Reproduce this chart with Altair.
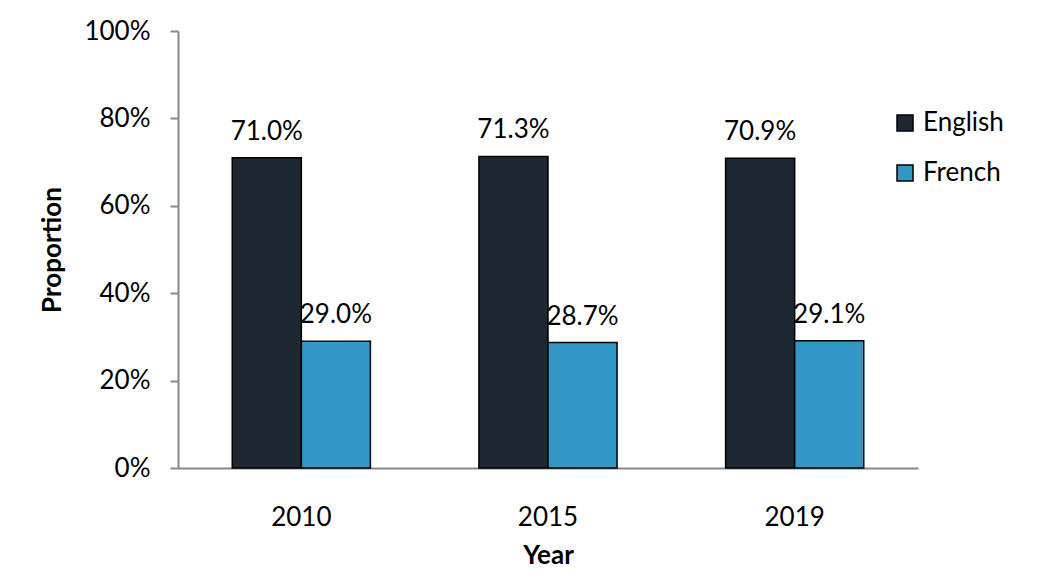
import altair as alt
import pandas as pd

years = ["2010", "2015", "2019"]
languages = ["English", "French"]
english = [71.0, 71.3, 70.9]
french = [29.0, 28.7, 29.1]

rows = []
for i, y in enumerate(years):
    rows.append({"Year": y, "Language": "English", "value": english[i] / 100})
    rows.append({"Year": y, "Language": "French", "value": french[i] / 100})
df = pd.DataFrame(rows)

FONT = "Lato"
color = alt.Color(
    "Language:N",
    scale=alt.Scale(domain=languages, range=["#1d2833", "#3198c6"]),
    legend=alt.Legend(
        title=None,
        orient="none",
        legendX=714,
        legendY=79,
        symbolType="square",
        symbolSize=256,
        symbolStrokeColor="black",
        symbolStrokeWidth=1.5,
        labelFontSize=26,
        labelFont=FONT,
        labelColor="black",
        rowPadding=24,
        labelOffset=5,
    ),
)

x = alt.X(
    "Year:N",
    sort=years,
    scale=alt.Scale(paddingInner=0.44, paddingOuter=0.22),
    axis=alt.Axis(
        title="Year",
        labelAngle=0,
        ticks=False,
        labelPadding=36,
        titlePadding=12,
        domainColor="#888888",
        domainWidth=2,
    ),
)

base = alt.Chart(df).encode(
    x=x,
    xOffset=alt.XOffset("Language:N", sort=languages),
    y=alt.Y(
        "value:Q",
        scale=alt.Scale(domain=[0, 1]),
        axis=alt.Axis(
            title="Proportion",
            format=".0%",
            values=[0, 0.2, 0.4, 0.6, 0.8, 1.0],
            grid=False,
            tickSize=8,
            tickColor="#888888",
            tickWidth=2,
            domainColor="#888888",
            domainWidth=2,
            labelPadding=20,
            titlePadding=18,
        ),
    ),
)

bars = base.mark_bar(stroke="black", strokeWidth=1.5).encode(color=color)
labels = base.mark_text(
    dy=-18, baseline="alphabetic", fontSize=26, font=FONT, color="black"
).encode(text=alt.Text("value:Q", format=".1%"))

chart = (
    alt.layer(bars, labels)
    .properties(
        width=740,
        height=437,
        autosize=alt.AutoSizeParams(type="none"),
        padding={"left": 170, "top": 23, "right": 120, "bottom": 104},
    )
    .configure_view(stroke=None)
    .configure_axis(
        labelFont=FONT,
        labelFontSize=26,
        labelColor="black",
        titleFont=FONT,
        titleFontSize=26,
        titleFontWeight="bold",
        titleColor="black",
    )
)

chart.save("out.html", embed_options={"renderer": "svg", "actions": False})
